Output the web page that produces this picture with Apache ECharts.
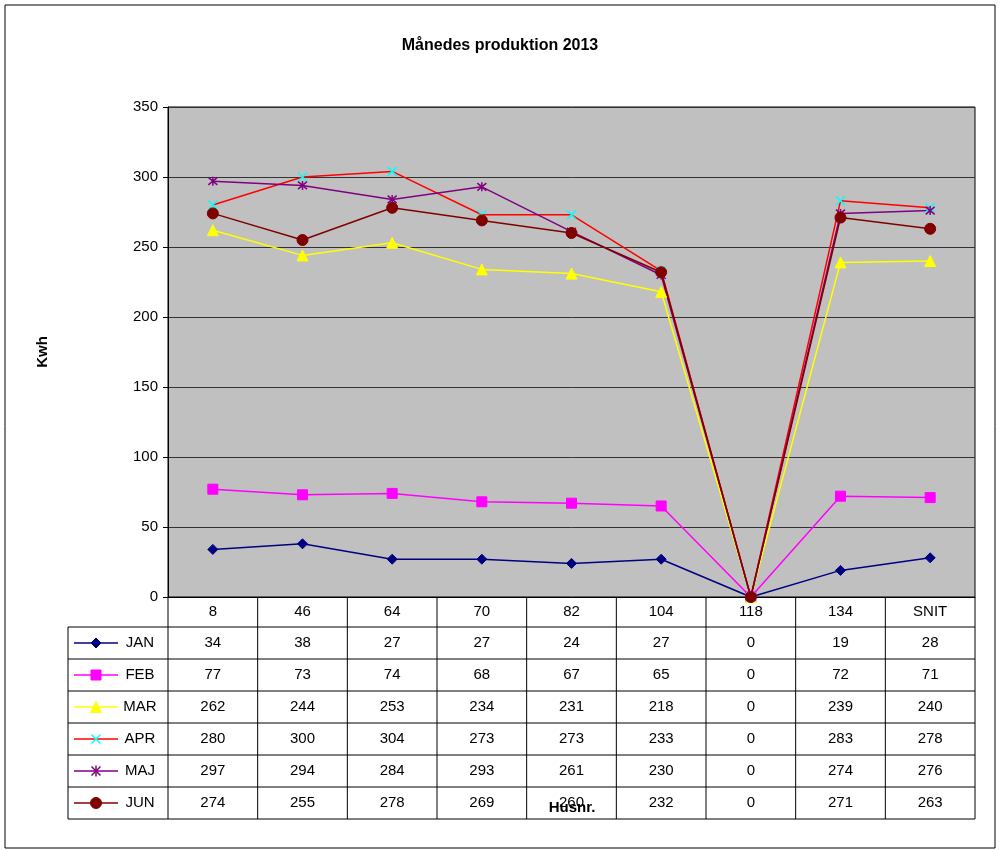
<!DOCTYPE html>
<html><head><meta charset="utf-8">
<script src="https://cdn.jsdelivr.net/npm/echarts@6/dist/echarts.min.js"></script>
<style>html,body{margin:0;background:#fff}#c{width:1000px;height:850px}</style>
</head><body><div id="c"></div>
<script>
const categories = ['8', '46', '64', '70', '82', '104', '118', '134', 'SNIT'];
const jan = [34, 38, 27, 27, 24, 27, 0, 19, 28];
const feb = [77, 73, 74, 68, 67, 65, 0, 72, 71];
const mar = [262, 244, 253, 234, 231, 218, 0, 239, 240];
const apr = [280, 300, 304, 273, 273, 233, 0, 283, 278];
const maj = [297, 294, 284, 293, 261, 230, 0, 274, 276];
const jun = [274, 255, 278, 269, 260, 232, 0, 271, 263];

const CROSS = 'path://M0,0L10,10M10,0L0,10';
const STAR = 'path://M0,0L10,10M10,0L0,10M5,-1L5,11';
const rows = [
  { name: 'JAN', data: jan, line: '#000080', mark: '#000080', symbol: 'diamond', size: 10, open: false },
  { name: 'FEB', data: feb, line: '#FF00FF', mark: '#FF00FF', symbol: 'rect', size: 10, open: false },
  { name: 'MAR', data: mar, line: '#FFFF00', mark: '#FFFF00', symbol: 'triangle', size: 11, open: false },
  { name: 'APR', data: apr, line: '#FF0000', mark: '#00FFFF', symbol: CROSS, size: 9, open: true },
  { name: 'MAJ', data: maj, line: '#800080', mark: '#800080', symbol: STAR, size: 9, open: true },
  { name: 'JUN', data: jun, line: '#800000', mark: '#800000', symbol: 'circle', size: 11, open: false }
];

const font = 'Liberation Sans, Arial, sans-serif';
const chart = echarts.init(document.getElementById('c'));
const gridL = 168, gridR = 975, gridT = 107, gridB = 597;

chart.setOption({
  backgroundColor: '#fff',
  animation: false,
  title: { text: 'Månedes produktion 2013', left: 'center', top: 33,
    textStyle: { fontFamily: font, fontSize: 16, fontWeight: 'bold', color: '#000' } },
  grid: { left: gridL, right: 1000 - gridR, top: gridT, bottom: 850 - gridB,
    show: true, backgroundColor: '#C0C0C0', borderColor: '#000', borderWidth: 1 },
  xAxis: { type: 'category', data: categories, boundaryGap: true,
    axisLine: { lineStyle: { color: '#000' } }, axisTick: { show: false },
    axisLabel: { show: false } },
  yAxis: { type: 'value', min: 0, max: 350, interval: 50,
    name: 'Kwh', nameLocation: 'middle', nameGap: 118, nameRotate: 90,
    nameTextStyle: { fontFamily: font, fontSize: 15, fontWeight: 'bold', color: '#000' },
    axisLine: { show: true, lineStyle: { color: '#000' } },
    axisTick: { show: true, length: 5, lineStyle: { color: '#000' } },
    axisLabel: { fontFamily: font, fontSize: 15, color: '#000', margin: 10 },
    splitLine: { lineStyle: { color: '#333', width: 1 } } },
  series: rows.map(r => ({
    name: r.name, type: 'line', data: r.data, symbol: r.symbol, symbolSize: r.size,
    lineStyle: { color: r.line, width: 1.5 },
    itemStyle: r.open ? { color: 'none', borderColor: r.mark, borderWidth: 1.5 } : { color: r.mark, borderColor: r.mark, borderWidth: 1 },
    emphasis: { disabled: true }
  }))
});

// data table below the plot
const rowH = 32, headH = 30, tableL = 68;
const colW = (gridR - gridL) / categories.length;
const tableB = gridB + headH + rows.length * rowH;
const g = [];
const txt = (x, y, s, extra) => g.push({ type: 'text', x, y, z: 20, style: Object.assign({ text: s, fontFamily: font, fontSize: 15, fill: '#000', align: 'center', verticalAlign: 'middle' }, extra || {}) });
const ln = (x1, y1, x2, y2, stroke, w) => g.push({ type: 'line', z: 10, shape: { x1, y1, x2, y2 }, style: { stroke: stroke || '#000', lineWidth: w || 1 } });

categories.forEach((c, i) => {
  const cx = chart.convertToPixel({ xAxisIndex: 0 }, c);
  txt(cx, gridB + headH / 2, c);
  rows.forEach((r, j) => txt(cx, gridB + headH + j * rowH + rowH / 2, String(r.data[i])));
});
for (let i = 0; i <= categories.length; i++) ln(gridL + i * colW, gridB, gridL + i * colW, tableB);
ln(tableL, gridB + headH, tableL, tableB);
for (let j = 0; j <= rows.length; j++) ln(tableL, gridB + headH + j * rowH, gridR, gridB + headH + j * rowH);

// legend keys
rows.forEach((r, j) => {
  const cy = gridB + headH + j * rowH + rowH / 2;
  const kx = 96, h = r.size / 2;
  ln(74, cy, 118, cy, r.line, 1.5);
  txt(140, cy, r.name);
  const fill = { fill: r.mark, stroke: r.mark, lineWidth: 1 };
  if (r.symbol === 'diamond') g.push({ type: 'polygon', z: 15, shape: { points: [[kx, cy - h], [kx + h, cy], [kx, cy + h], [kx - h, cy]] }, style: fill });
  else if (r.symbol === 'rect') g.push({ type: 'rect', z: 15, shape: { x: kx - h, y: cy - h, width: 2 * h, height: 2 * h }, style: fill });
  else if (r.symbol === 'triangle') g.push({ type: 'polygon', z: 15, shape: { points: [[kx, cy - h], [kx + h, cy + h], [kx - h, cy + h]] }, style: fill });
  else if (r.symbol === 'circle') g.push({ type: 'circle', z: 15, shape: { cx: kx, cy, r: h }, style: fill });
  else {
    ln(kx - h, cy - h, kx + h, cy + h, r.mark, 1.5);
    ln(kx + h, cy - h, kx - h, cy + h, r.mark, 1.5);
    if (r.symbol === STAR) ln(kx, cy - h - 1, kx, cy + h + 1, r.mark, 1.5);
  }
});
g.push({ type: 'rect', z: 0, shape: { x: 5, y: 5, width: 990, height: 843 }, style: { fill: 'none', stroke: '#000', lineWidth: 1 } });
txt(572, 808, 'Husnr.', { fontWeight: 'bold', fontSize: 15 });
chart.setOption({ graphic: g });
</script>
</body></html>
